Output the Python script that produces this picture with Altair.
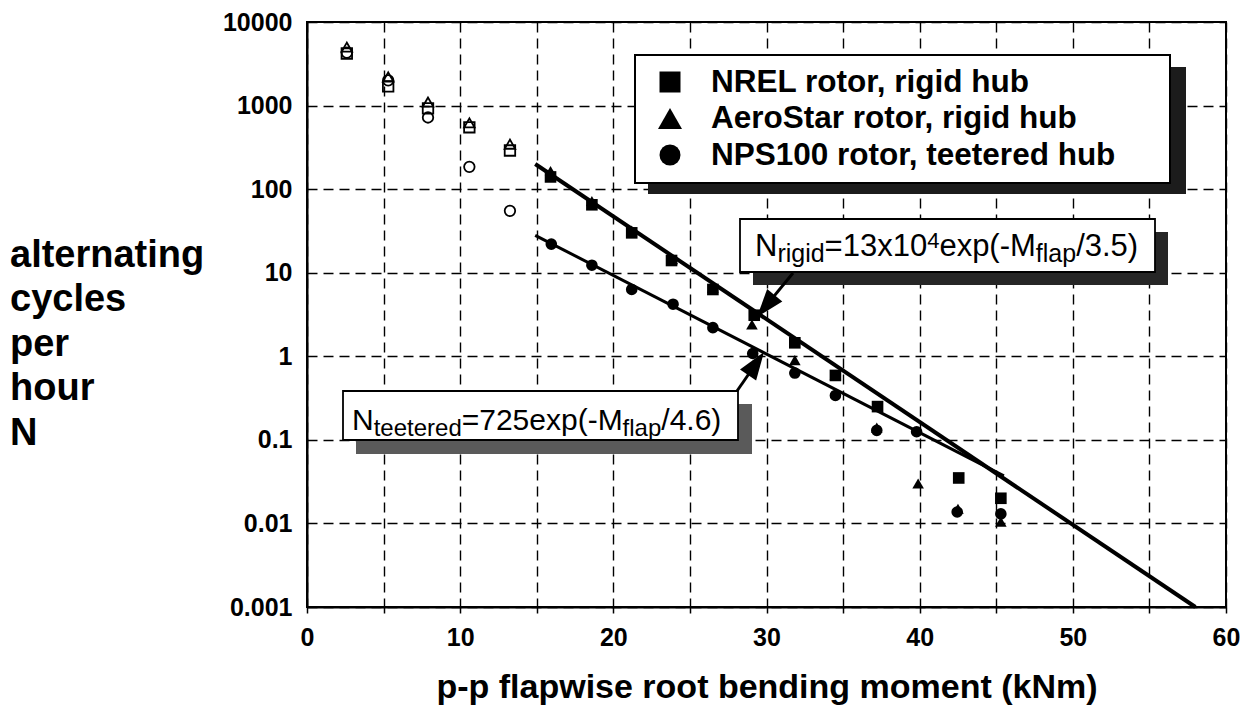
import math
import altair as alt
import pandas as pd

# ---------------- data ----------------
rotors = ["NREL rotor, rigid hub", "AeroStar rotor, rigid hub", "NPS100 rotor, teetered hub"]
rotor_shapes = ["square", "triangle-up", "circle"]

# open (hollow) markers at low moments
nrel_open_M = [2.6, 5.3, 7.9, 10.6, 13.25]
nrel_open_N = [4200, 1700, 925, 550, 290]
aero_open_M = [2.6, 5.3, 7.9, 10.6, 13.25]
aero_open_N = [5000, 2200, 1100, 620, 345]
nps_open_M = [2.6, 5.3, 7.9, 10.6, 13.25]
nps_open_N = [4300, 2000, 720, 185, 55]

# filled markers
nrel_M = [15.9, 18.6, 21.2, 23.8, 26.5, 29.2, 31.85, 34.5, 37.25, 42.55, 45.3]
nrel_N = [140, 65, 30, 14, 6.3, 3.1, 1.45, 0.59, 0.25, 0.035, 0.020]
aero_M = [15.9, 18.6, 21.2, 23.85, 26.5, 29.05, 31.85, 34.5, 37.2, 39.9, 42.5, 45.3]
aero_N = [165, 72, 32, 14.5, 6.6, 2.4, 0.9, 0.6, 0.14, 0.030, 0.015, 0.0105]
nps_M = [15.95, 18.6, 21.2, 23.9, 26.5, 29.1, 31.85, 34.5, 37.2, 39.8, 42.45, 45.3]
nps_N = [22, 12.3, 6.3, 4.2, 2.2, 1.08, 0.63, 0.34, 0.13, 0.125, 0.0137, 0.013]

# fitted straight lines (end points)
rigid_fit_M = [14.9, 58.0]
rigid_fit_N = [200, 0.001]
teet_fit_M = [14.9, 45.5]
teet_fit_N = [28, 0.037]

x_ticks = [0, 5, 10, 15, 20, 25, 30, 35, 40, 45, 50, 55, 60]
y_ticks = [0.001, 0.01, 0.1, 1, 10, 100, 1000, 10000]

x_title = "p-p flapwise root bending moment (kNm)"
y_title_lines = ["alternating", "cycles", "per", "hour", "N"]

# ---------------- tables ----------------
def series(Ms, Ns, rotor):
    return pd.DataFrame({"M": Ms, "N": Ns, "rotor": rotor})

df_open = pd.concat([
    series(nrel_open_M, nrel_open_N, rotors[0]),
    series(aero_open_M, aero_open_N, rotors[1]),
    series(nps_open_M, nps_open_N, rotors[2]),
], ignore_index=True)
df_filled = pd.concat([
    series(nrel_M, nrel_N, rotors[0]),
    series(aero_M, aero_N, rotors[1]),
    series(nps_M, nps_N, rotors[2]),
], ignore_index=True)
df_rigid = pd.DataFrame({"M": rigid_fit_M, "N": rigid_fit_N})
df_teet = pd.DataFrame({"M": teet_fit_M, "N": teet_fit_N})
one = pd.DataFrame({"k": [0]})

# ---------------- layout ----------------
W, H = 919, 585
X0, Y0 = 307, 22          # page position of the plot origin
FONT = "Liberation Sans"


def px(x):
    return x - X0


def py(y):
    return y - Y0


xscale = alt.Scale(domain=[0, 60], nice=False, zero=False)
yscale = alt.Scale(type="log", domain=[0.001, 10000], nice=False)

grid_kw = dict(grid=True, gridDash=[10, 6], gridColor="black", gridWidth=1.4, gridOpacity=1)
xaxis = alt.Axis(values=x_ticks, labelExpr="datum.value % 10 == 0 ? datum.label : ''",
                 title=x_title, domainColor="black", domainWidth=2,
                 tickColor="black", tickSize=6, tickWidth=1.5,
                 labelFont=FONT, labelFontSize=25, labelFontWeight="bold", labelColor="black",
                 labelPadding=12, labelFlush=False, labelOverlap=False,
                 titleFont=FONT, titleFontSize=34, titleFontWeight="bold", titleColor="black",
                 titlePadding=20, **grid_kw)
yaxis = alt.Axis(values=y_ticks, format="~g", title=None, domainColor="black", domainWidth=2,
                 ticks=False, labelFont=FONT, labelFontSize=25, labelFontWeight="bold",
                 labelColor="black", labelPadding=15, labelFlush=False, labelOverlap=False,
                 **grid_kw)


def X():
    return alt.X("M:Q", scale=xscale, axis=xaxis)


def Y():
    return alt.Y("N:Q", scale=yscale, axis=yaxis)


shape_enc = alt.Shape("rotor:N", scale=alt.Scale(domain=rotors, range=rotor_shapes), legend=None)

line_rigid = alt.Chart(df_rigid).mark_line(color="black", strokeWidth=4).encode(x=X(), y=Y())
line_teet = alt.Chart(df_teet).mark_line(color="black", strokeWidth=3).encode(x=X(), y=Y())

pts_open = alt.Chart(df_open).mark_point(filled=False, size=110, strokeWidth=1.8,
                                         color="black", opacity=1).encode(
    x=X(), y=Y(), shape=shape_enc)
pts_filled = alt.Chart(df_filled).mark_point(filled=True, size=135, color="black",
                                             opacity=1).encode(
    x=X(), y=Y(), shape=shape_enc)


def rect(x1, y1, x2, y2, **kw):
    return alt.Chart(one).mark_rect(**kw).encode(
        x=alt.value(px(x1)), x2=alt.value(px(x2)),
        y=alt.value(py(y1)), y2=alt.value(py(y2)))


def text(x, y, s, size, bold=False, align="left", baseline="alphabetic", **kw):
    mk = dict(text=s, font=FONT, fontSize=size, color="black", align=align, baseline=baseline)
    if bold:
        mk["fontWeight"] = "bold"
    mk.update(kw)
    return alt.Chart(one).mark_text(**mk).encode(x=alt.value(px(x)), y=alt.value(py(y)))


# Arial / Liberation Sans regular advance widths (per 1 em)
WID = {"N": .722, "r": .333, "i": .222, "g": .556, "d": .556, "=": .584, "1": .556,
       "3": .556, "x": .5, "0": .556, "4": .556, "e": .556, "p": .556, "(": .333,
       "-": .333, "M": .833, "f": .278, "l": .222, "a": .556, "/": .278, ".": .278,
       "5": .556, ")": .333, "t": .278, "7": .556, "2": .556, "6": .556}


def rich(x, base, segs, main=30, sub=24, sup=20):
    layers = []
    cx = x
    for s, kind in segs:
        size = {"m": main, "sub": sub, "sup": sup}[kind]
        dy = {"m": 0, "sub": 6, "sup": -8}[kind]
        layers.append(text(cx, base + dy, s, size))
        cx += sum(WID.get(c, .556) for c in s) * size
    return layers


def arrow(x1, y1, x2, y2, head=28):
    dx, dy = x2 - x1, y2 - y1
    L = math.hypot(dx, dy)
    ux, uy = dx / L, dy / L
    ang = math.degrees(math.atan2(ux, -uy)) % 360
    cx, cy = x2 - ux * head / 2, y2 - uy * head / 2
    shaft = alt.Chart(one).mark_rule(color="black", strokeWidth=3).encode(
        x=alt.value(px(x1)), y=alt.value(py(y1)),
        x2=alt.value(px(cx)), y2=alt.value(py(cy)))
    tip = alt.Chart(one).mark_point(shape="M0,-1L0.7,1L-0.7,1Z", size=head * head,
                                    filled=True, color="black", opacity=1,
                                    angle=round(ang, 1)).encode(
        x=alt.value(px(cx)), y=alt.value(py(cy)))
    return [shaft, tip]


layers = [line_rigid, line_teet, pts_open, pts_filled]

# rigid-hub annotation
layers += [rect(753, 232, 1168, 285, fill="#262626"),
           rect(740, 219, 1155, 272, fill="white", stroke="black", strokeWidth=1.8)]
layers += rich(755, 256, [("N", "m"), ("rigid", "sub"), ("=13x10", "m"), ("4", "sup"),
                          ("exp(-M", "m"), ("flap", "sub"), ("/3.5)", "m")],
               main=31, sub=25, sup=22)
layers += arrow(793, 273, 757, 317)

# teetered-hub annotation
layers += [rect(356, 404, 752, 454, fill="#5a5a5a"),
           rect(343, 391, 738, 440, fill="white", stroke="black", strokeWidth=1.8)]
layers += rich(352, 430, [("N", "m"), ("teetered", "sub"), ("=725exp(-M", "m"),
                          ("flap", "sub"), ("/4.6)", "m")])
layers += arrow(737, 391, 764, 352)

# legend box
layers += [rect(648, 67, 1186, 194, fill="#1c1c1c"),
           rect(635, 55, 1170, 183, fill="white", stroke="black", strokeWidth=2)]
leg_y = [82, 118.5, 155]
leg_base = [91.7, 128.3, 165]
leg_size = [441, 576, 441]
for i, r in enumerate(rotors):
    layers.append(alt.Chart(one).mark_point(shape=rotor_shapes[i], size=leg_size[i], filled=True,
                                            color="black", opacity=1).encode(
        x=alt.value(px(670)), y=alt.value(py(leg_y[i]))))
    layers.append(text(711, leg_base[i], r, 31.5, bold=True))

# y-axis title (multi-line, left of the axis)
layers.append(text(10, 266.7, y_title_lines, 38, bold=True, lineHeight=44.6))

chart = alt.layer(*layers).properties(
    width=W, height=H,
    autosize=alt.AutoSizeParams(type="none"),
    padding={"left": X0, "top": Y0, "right": 1249 - X0 - W, "bottom": 707 - Y0 - H},
    background="white",
).configure_view(stroke="black", strokeWidth=2)

chart.save("out.html", embed_options={"renderer": "svg", "actions": False})
